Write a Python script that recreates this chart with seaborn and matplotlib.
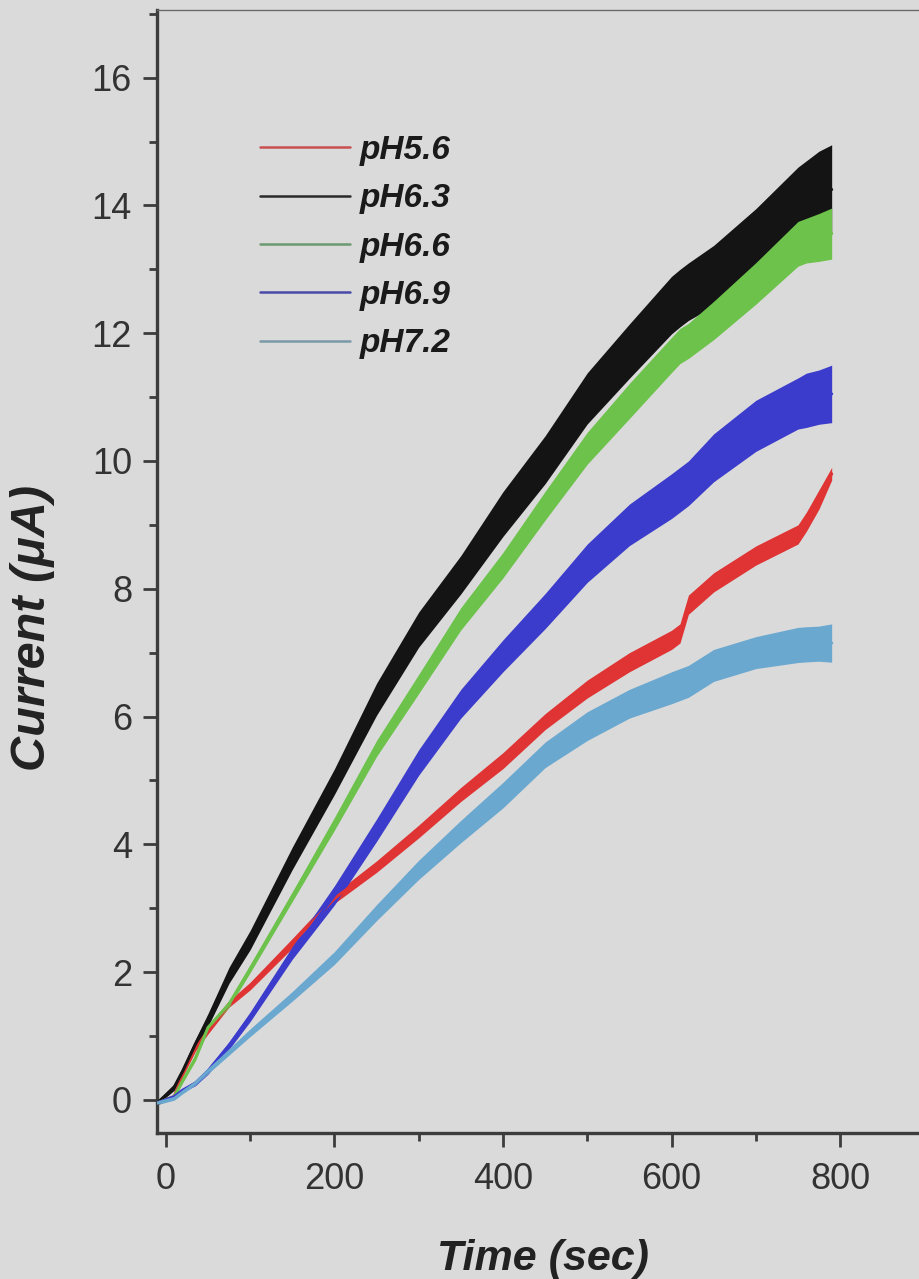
import numpy as np
import pandas as pd
import matplotlib
matplotlib.use("Agg")
import matplotlib.pyplot as plt
import seaborn as sns
from matplotlib.ticker import MultipleLocator
from matplotlib.lines import Line2D

# ---- data ----
time_s = [-10, 10, 20, 35, 50, 75, 100, 150, 200, 250, 300, 350, 400, 450,
          500, 550, 600, 610, 620, 650, 700, 750, 760, 775, 790]

ph56 = [-0.05, 0.05, 0.4, 0.8, 1.08, 1.5, 1.78, 2.45, 3.15, 3.65, 4.2, 4.78, 5.31,
        5.92, 6.43, 6.85, 7.2, 7.3, 7.75, 8.1, 8.52, 8.85, 9.05, 9.4, 9.8]
ph63 = [-0.05, 0.2, 0.45, 0.87, 1.25, 1.95, 2.5, 3.78, 4.98, 6.27, 7.36, 8.22, 9.17,
        10.02, 10.98, 11.72, 12.44, 12.55, 12.65, 12.9, 13.45, 14.05, 14.1, 14.2, 14.25]
ph66 = [-0.05, 0.05, 0.3, 0.65, 1.13, 1.5, 2.05, 3.18, 4.32, 5.5, 6.51, 7.53, 8.37,
        9.3, 10.2, 10.94, 11.66, 11.8, 11.88, 12.2, 12.78, 13.4, 13.45, 13.5, 13.56]
ph69 = [-0.05, 0.05, 0.15, 0.26, 0.45, 0.85, 1.3, 2.3, 3.2, 4.22, 5.28, 6.2, 6.95,
        7.65, 8.4, 9.0, 9.45, 9.55, 9.65, 10.05, 10.55, 10.9, 10.95, 11.0, 11.05]
ph72 = [-0.05, 0.02, 0.12, 0.26, 0.45, 0.75, 1.05, 1.62, 2.22, 2.93, 3.6, 4.2, 4.77,
        5.4, 5.85, 6.2, 6.45, 6.5, 6.55, 6.8, 7.0, 7.12, 7.13, 7.14, 7.15]

# vertical extent of the noise band of each trace
band56 = [0.05, 0.05, 0.06, 0.08, 0.1, 0.1, 0.12, 0.15, 0.15, 0.18, 0.2, 0.22, 0.25,
          0.25, 0.28, 0.3, 0.3, 0.3, 0.3, 0.3, 0.3, 0.3, 0.3, 0.3, 0.2]
band63 = [0.05, 0.1, 0.12, 0.15, 0.2, 0.25, 0.3, 0.35, 0.4, 0.5, 0.55, 0.6, 0.7,
          0.75, 0.8, 0.85, 0.9, 0.9, 0.9, 0.95, 1.0, 1.1, 1.2, 1.3, 1.4]
band66 = [0.05, 0.05, 0.06, 0.08, 0.08, 0.1, 0.12, 0.15, 0.2, 0.25, 0.3, 0.35, 0.4,
          0.45, 0.5, 0.55, 0.55, 0.55, 0.55, 0.6, 0.65, 0.7, 0.7, 0.75, 0.8]
band69 = [0.05, 0.05, 0.06, 0.08, 0.1, 0.12, 0.15, 0.2, 0.3, 0.35, 0.4, 0.45, 0.5,
          0.55, 0.6, 0.65, 0.7, 0.7, 0.7, 0.75, 0.8, 0.8, 0.85, 0.85, 0.9]
band72 = [0.05, 0.05, 0.05, 0.06, 0.08, 0.1, 0.12, 0.15, 0.2, 0.25, 0.3, 0.35, 0.4,
          0.4, 0.45, 0.45, 0.5, 0.5, 0.5, 0.5, 0.5, 0.55, 0.55, 0.55, 0.6]

labels = ["pH5.6", "pH6.3", "pH6.6", "pH6.9", "pH7.2"]
colors = ["#e03434", "#141414", "#6cc24a", "#3c3ccc", "#6aa8d0"]
legend_colors = ["#c85050", "#2a2a2a", "#6c9a70", "#4a4aa8", "#7a9aa8"]

x_ticks = [0, 200, 400, 600, 800]
y_ticks = [0, 2, 4, 6, 8, 10, 12, 14, 16]

series = [ph56, ph63, ph66, ph69, ph72]
bands = [band56, band63, band66, band69, band72]

df = pd.concat(
    [pd.DataFrame({"Time": time_s, "Current": s, "pH": lab})
     for s, lab in zip(series, labels)],
    ignore_index=True)

# ---- style ----
sns.set_theme(style="ticks")
bg = "#dadada"
plt.rcParams["font.family"] = ["Liberation Sans", "DejaVu Sans"]

fig = plt.figure(figsize=(9.19, 12.79), dpi=100, facecolor=bg)
ax = fig.add_axes([157 / 919, 146 / 1279, (928.6 - 157) / 919, (1133 - 10) / 1279])
ax.set_facecolor(bg)

# noisy band of each trace
for s, b, c in zip(series, bands, colors):
    s = np.asarray(s)
    b = np.asarray(b)
    ax.fill_between(time_s, s - b / 2, s + b / 2, color=c, lw=0, zorder=2)

sns.lineplot(data=df, x="Time", y="Current", hue="pH", hue_order=labels,
             palette=colors, linewidth=2.2, ax=ax, legend=False, zorder=3,
             sort=False, estimator=None)

ax.set_xlim(-10.5, 905)
ax.set_ylim(-0.52, 17.06)
ax.set_xticks(x_ticks)
ax.set_yticks(y_ticks)
ax.xaxis.set_minor_locator(MultipleLocator(100))
ax.yaxis.set_minor_locator(MultipleLocator(1))

spine_col = "#3c3c3c"
for side in ["left", "bottom"]:
    ax.spines[side].set_color(spine_col)
    ax.spines[side].set_linewidth(2.4)
ax.spines["top"].set_color("#6a6a6a")
ax.spines["top"].set_linewidth(1.0)
ax.spines["right"].set_visible(False)

ax.tick_params(axis="both", which="major", direction="out", length=10, width=2,
               color=spine_col, labelsize=26, labelcolor="#333333", pad=8)
ax.tick_params(axis="both", which="minor", direction="out", length=6, width=2,
               color=spine_col)
ax.tick_params(axis="x", which="major", pad=11)
ax.tick_params(top=False, right=False, which="both")

ax.set_xlabel("Time (sec)", fontsize=31, fontweight="bold", fontstyle="italic",
              color="#222222", labelpad=30)
ax.set_ylabel("Current (μA)", fontsize=35, fontweight="bold", fontstyle="italic",
              color="#222222")
ax.yaxis.set_label_coords(-0.132, 0.45)

# legend
handles = [Line2D([0], [0], color=c, lw=1.8) for c in legend_colors]
leg = ax.legend(handles, labels, loc="upper left",
                bbox_to_anchor=(260 / 919, 1 - 135 / 1279),
                bbox_transform=fig.transFigure, frameon=False,
                borderpad=0, borderaxespad=0, handlelength=2.7,
                handletextpad=0.3, labelspacing=0.52,
                prop={"size": 24, "weight": "bold", "style": "italic"})
for t in leg.get_texts():
    t.set_color("#1a1a1a")

fig.savefig("out.png", dpi=100, facecolor=bg)
